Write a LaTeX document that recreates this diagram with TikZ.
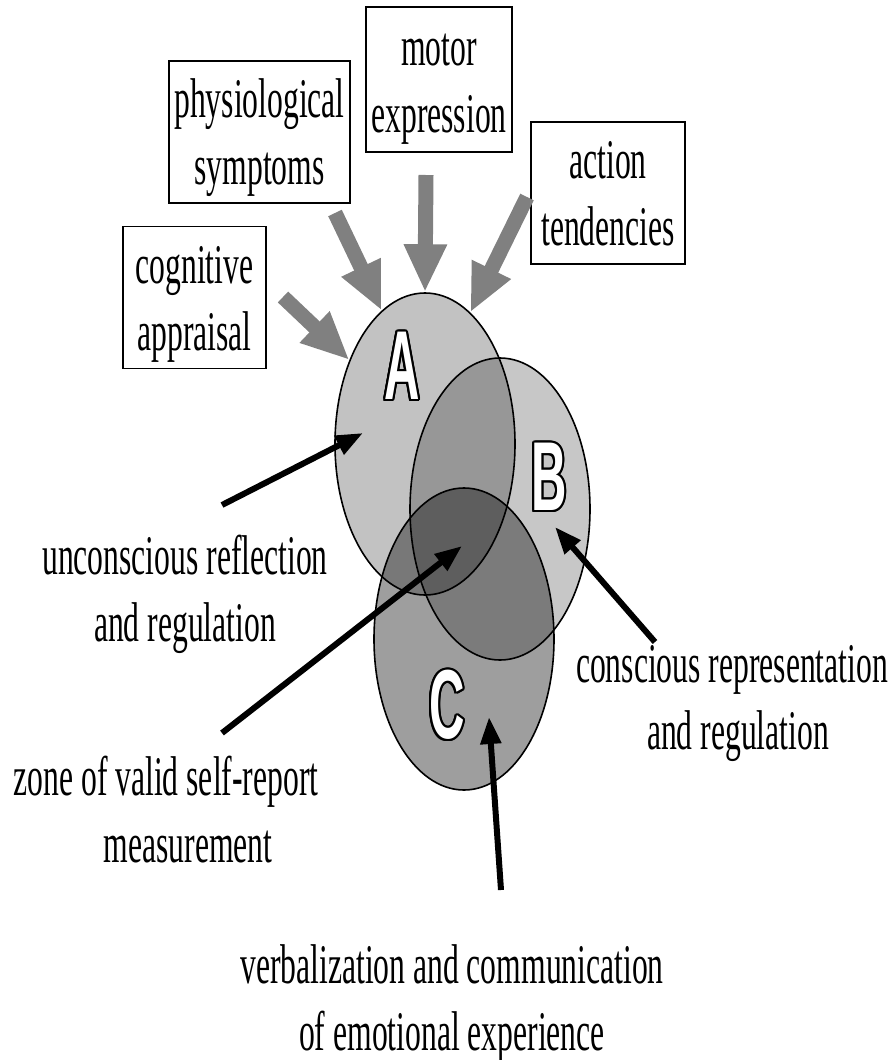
\documentclass[tikz,border=0pt]{standalone}
\usepackage{fontspec}
\setmainfont{Liberation Serif}[FakeStretch=0.565]
\newfontfamily\letterfont{Liberation Sans}[FakeStretch=0.5]
\usepackage{contour}
\contourlength{2.2pt}
\usetikzlibrary{shapes.geometric,arrows.meta}
\definecolor{feedgray}{RGB}{128,128,128}
\newcommand\lstrut{\rule[-12pt]{0pt}{62pt}}
\tikzset{
  srcbox/.style={draw,line width=1.4pt,align=center,inner sep=0pt,minimum height=142pt},
  lbl/.style={align=center,inner sep=0pt},
  blob/.style={ellipse,draw,line width=1.6pt,fill=black,inner sep=0pt,
    minimum width=180pt,minimum height=302pt},
  letter/.style={font=\letterfont\bfseries\fontsize{98}{98}\selectfont,text=white,inner sep=0pt},
  feed/.style={draw=feedgray,line width=15pt,-{Triangle[length=48pt,width=40pt]}},
  pointer/.style={draw=black,line width=6pt,-{Triangle[length=27pt,width=20pt]}},
}
\begin{document}
\begin{tikzpicture}[x=1pt,y=-1pt,font=\fontsize{56}{67}\selectfont]
\useasboundingbox (0,0) rectangle (896,1060);
%% the three ellipses
\node[blob,fill opacity=.24] (ellA) at (425,444) {};
\node[blob,fill opacity=.22] (ellB) at (500,509) {};
\node[blob,fill opacity=.38] (ellC) at (464,639) {};
\node[letter] (letA) at (402,367) {\contour{black}{A}};
\node[letter] (letB) at (549,478) {\contour{black}{B}};
\node[letter] (letC) at (447,706) {\contour{black}{C}};
%% components
\node[srcbox,minimum width=143pt] (cog) at (194.5,297.5) {\lstrut cognitive\\\lstrut appraisal};
\node[srcbox,minimum width=181pt] (phys) at (259.5,132) {\lstrut physiological\\\lstrut symptoms};
\node[srcbox,minimum width=146pt,minimum height=145pt] (motor) at (439,79.5) {\lstrut motor\\\lstrut expression};
\node[srcbox,minimum width=154pt] (action) at (608,193) {\lstrut action\\\lstrut tendencies};
\coordinate (cogTail) at (283,297);
\coordinate (physTail) at (335,213);
\coordinate (motorTail) at (426,175);
\coordinate (actionTail) at (527,197);
\draw[feed] (cogTail) -- (ellA.132);
\draw[feed] (physTail) -- (ellA.108);
\draw[feed] (motorTail) -- (ellA.90);
\draw[feed] (actionTail) -- (ellA.71);
%% labels
\node[lbl] (unc) at (185,589.5) {\lstrut unconscious reflection\\\lstrut and regulation};
\node[lbl] (zone) at (166,809.5) {\lstrut zone of valid self-report\\\lstrut\hspace*{44pt}measurement};
\node[lbl] (cons) at (732,697.5) {\lstrut conscious representation\\\lstrut\hspace*{12pt}and regulation};
\node[lbl] (verb) at (452,997.5) {\lstrut verbalization and communication\\\lstrut of emotional experience};
\coordinate (uncTail) at (222,505);
\coordinate (uncTip) at (363,433);
\coordinate (zoneTail) at (222,733);
\coordinate (zoneTip) at (462,546);
\coordinate (consTail) at (655,642);
\coordinate (consTip) at (555,527);
\coordinate (verbTail) at (501,890);
\coordinate (verbTip) at (489,717);
\draw[pointer] (uncTail) -- (uncTip);
\draw[pointer] (zoneTail) -- (zoneTip);
\draw[pointer] (consTail) -- (consTip);
\draw[pointer] (verbTail) -- (verbTip);
%
\end{tikzpicture}
\end{document}
